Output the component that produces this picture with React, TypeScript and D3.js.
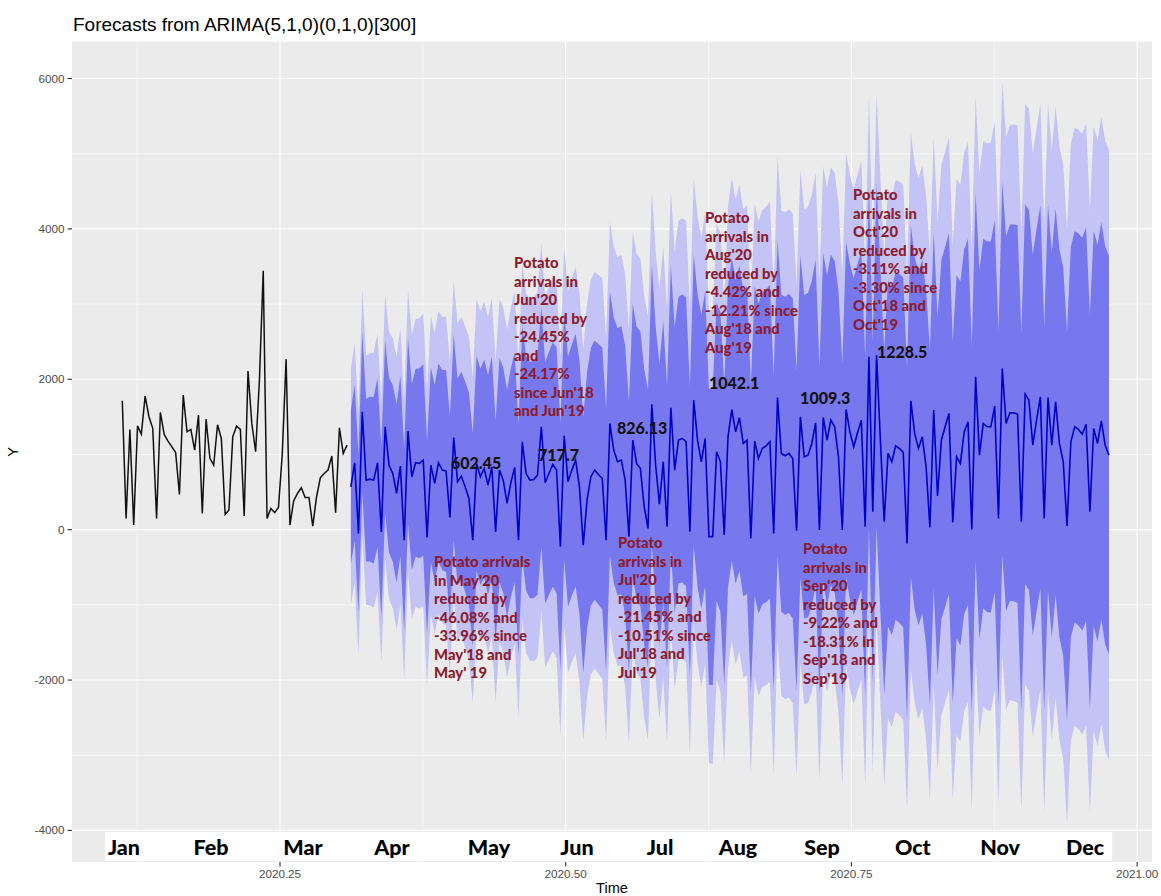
import React, { useEffect, useRef } from 'react';
import * as d3 from 'd3';

const W = 1161;
const H = 896;

// series is a ts with frequency 300, first obs read at ~2020.112
const startTime = 2020.112;
const freq = 300;

const histValues = [
  1714, 150, 1333, 61, 1381, 1271, 1777, 1502, 1347, 150,
  1559, 1267, 1178, 1103, 1027, 469, 1790, 1302, 1333, 1059,
  1524, 216, 1471, 948, 859, 1395, 1213, 203, 261, 1236,
  1377, 1333, 181, 2109, 1413, 1036, 1990, 3443, 150, 283,
  226, 296, 1014, 2268, 61, 385, 483, 558, 429, 429,
  48, 438, 691, 748, 793, 979, 226, 1355, 1014, 1125,
];

// point forecasts
const fcMean = [
  570, 890, -50, 1567, 659, 672, 659, 890, -29, 1368,
  859, 748, 482, 846, -139, 1310, 703, 890, 881, 925,
  -103, 859, 615, 890, 792, 779, 163, 1226, 637, 712,
  570, 415, -139, 881, 703, 814, 593, 836, -29, 792,
  659, 349, 624, 828, -139, 1169, 748, 659, 668, 726,
  1368, 624, 748, 868, 792, -227, 1248, 637, 792, 925,
  570, -205, 393, 703, 792, 734, 681, -139, 1412, 1058,
  903, 925, 659, -93, 1191, 881, 814, 305, 17, 1669,
  859, 340, 903, 39, 1621, 792, 1191, 1213, 1169, -27,
  1722, 1191, 903, 1213, -93, -93, 1036, 903, -71, 1235,
  1597, 1301, 1488, 1147, 1191, -116, 1178, 947, 1080, 1115,
  1169, -50, 1758, 1014, 983, 1014, 947, -14, 1501, 969,
  991, 1147, 1421, -5, 1492, 1191, 1457, 1368, 969, -5,
  1599, 1301, 1102, 1288, 1457, 39, 2298, 239, 2320, 1191,
  105, 1014, 903, 1115, 1080, 1027, -182, 1714, 1280, 1080,
  1235, 836, 30, 1590, 447, 1191, 1368, 1545, 97, 969,
  881, 1301, 1434, 4, 2032, 991, 1412, 1368, 1368, 1643,
  150, 2143, 1412, 1554, 1554, 1536, 105, 1802, 1722, 1124,
  1457, 1767, 150, 1758, 1124, 1700, 1147, 903, 48, 1169,
  1368, 1333, 1270, 1403, 239, 1346, 1147, 1448, 1124, 991,
];

// forecast standard errors by horizon
const fcSe = [
  800, 811, 823, 834, 845, 855, 866, 876, 887, 897,
  907, 917, 927, 937, 947, 956, 966, 975, 985, 994,
  1003, 1012, 1021, 1030, 1039, 1048, 1056, 1065, 1073, 1082,
  1090, 1099, 1107, 1115, 1123, 1132, 1140, 1148, 1156, 1163,
  1171, 1179, 1187, 1195, 1202, 1210, 1217, 1225, 1232, 1240,
  1247, 1254, 1262, 1269, 1276, 1283, 1290, 1297, 1304, 1311,
  1318, 1325, 1332, 1339, 1346, 1353, 1359, 1366, 1373, 1379,
  1386, 1393, 1399, 1406, 1412, 1419, 1425, 1431, 1438, 1444,
  1451, 1457, 1463, 1469, 1476, 1482, 1488, 1494, 1500, 1506,
  1512, 1518, 1524, 1530, 1536, 1542, 1548, 1554, 1560, 1566,
  1572, 1577, 1583, 1589, 1595, 1600, 1606, 1612, 1618, 1623,
  1629, 1634, 1640, 1646, 1651, 1657, 1662, 1668, 1673, 1679,
  1684, 1689, 1695, 1700, 1706, 1711, 1716, 1722, 1727, 1732,
  1738, 1743, 1748, 1753, 1758, 1764, 1769, 1774, 1779, 1784,
  1789, 1795, 1800, 1805, 1810, 1815, 1820, 1825, 1830, 1835,
  1840, 1845, 1850, 1855, 1860, 1865, 1869, 1874, 1879, 1884,
  1889, 1894, 1899, 1903, 1908, 1913, 1918, 1923, 1927, 1932,
  1937, 1941, 1946, 1951, 1956, 1960, 1965, 1970, 1974, 1979,
  1983, 1988, 1993, 1997, 2002, 2006, 2011, 2015, 2020, 2025,
  2029, 2034, 2038, 2043, 2047, 2051, 2056, 2060, 2065, 2069,
];

const levels = [95, 80];
const levelZ = { 80: 1.2816, 95: 1.96 };
const levelFill = { 80: '#7878ee', 95: '#c3c3f5' };

const yTicks = [-4000, -2000, 0, 2000, 4000, 6000];
const yMinor = [-3000, -1000, 1000, 3000, 5000];
const xTicks = [2020.25, 2020.5, 2020.75, 2021.0];
const xTickLabels = ['2020.25', '2020.50', '2020.75', '2021.00'];
const xMinor = [2020.125, 2020.375, 2020.625, 2020.875];

const months = ['Jan', 'Feb', 'Mar', 'Apr', 'May', 'Jun', 'Jul', 'Aug', 'Sep', 'Oct', 'Nov', 'Dec'];
const monthAt = [2020.1135, 2020.1896, 2020.2701, 2020.348, 2020.4329, 2020.5099,
  2020.5826, 2020.6508, 2020.7243, 2020.8037, 2020.8801, 2020.9545];

// red notes pasted over the chart (anchor = first line, time / value)
const notes = [
  { t: 2020.4548, v: 3543, lines: ['Potato', 'arrivals in', "Jun'20", 'reduced by', '-24.45%', 'and', '-24.17%', "since Jun'18", "and Jun'19"] },
  { t: 2020.3848, v: -431, lines: ['Potato arrivals', "in May'20", 'reduced by', '-46.08% and', '-33.96% since', "May'18 and", "May' 19"] },
  { t: 2020.5458, v: -178, lines: ['Potato', 'arrivals in', "Jul'20", 'reduced by', '-21.45% and', '-10.51% since', "Jul'18 and", "Jul'19"] },
  { t: 2020.6219, v: 4141, lines: ['Potato', 'arrivals in', "Aug'20", 'reduced by', '-4.42% and', '-12.21% since', "Aug'18 and", "Aug'19"] },
  { t: 2020.7077, v: -258, lines: ['Potato', 'arrivals in', "Sep'20", 'reduced by', '-9.22% and', '-18.31% in', "Sep'18 and", "Sep'19"] },
  { t: 2020.7514, v: 4447, lines: ['Potato', 'arrivals in', "Oct'20", 'reduced by', '-3.11% and', '-3.30% since', "Oct'18 and", "Oct'19"] },
];

// monthly mean labels
const meanLabels = ['602.45', '717.7', '826.13', '1042.1', '1009.3', '1228.5'];
const meanLabelT = [2020.3996, 2020.4758, 2020.5449, 2020.6254, 2020.7051, 2020.7724];
const meanLabelV = [885, 991, 1350, 1948, 1749, 2361];

const App = () => {
  const ref = useRef(null);

  useEffect(() => {
    const margin = { top: 41.7, right: 9, bottom: 34, left: 72 };
    const x0 = margin.left;
    const x1 = W - margin.right;
    const y0 = margin.top;
    const y1 = H - margin.bottom;

    const svg = d3.select(ref.current);
    svg.selectAll('*').remove();

    const x = d3.scaleLinear().domain([2020.068, 2021.013]).range([x0, x1]);
    const y = d3.scaleLinear().domain([-4420, 6490]).range([y1, y0]);

    const hist = histValues.map((v, i) => ({ t: startTime + i / freq, v }));
    const fc = fcMean.map((v, i) => ({
      t: startTime + (histValues.length + i) / freq,
      v,
      se: fcSe[i],
    }));

    // panel
    svg.append('rect').attr('x', x0).attr('y', y0).attr('width', x1 - x0).attr('height', y1 - y0).attr('fill', '#ebebeb');

    const grid = svg.append('g').attr('stroke', '#ffffff');
    yMinor.forEach((v) => grid.append('line').attr('x1', x0).attr('x2', x1).attr('y1', y(v)).attr('y2', y(v)).attr('stroke-width', 0.55));
    xMinor.forEach((t) => grid.append('line').attr('x1', x(t)).attr('x2', x(t)).attr('y1', y0).attr('y2', y1).attr('stroke-width', 0.55));
    yTicks.forEach((v) => grid.append('line').attr('x1', x0).attr('x2', x1).attr('y1', y(v)).attr('y2', y(v)).attr('stroke-width', 1.1));
    xTicks.forEach((t) => grid.append('line').attr('x1', x(t)).attr('x2', x(t)).attr('y1', y0).attr('y2', y1).attr('stroke-width', 1.1));

    // prediction intervals
    levels.forEach((lv) => {
      const z = levelZ[lv];
      const area = d3.area()
        .x((d) => x(d.t))
        .y0((d) => y(d.v - z * d.se))
        .y1((d) => y(d.v + z * d.se));
      svg.append('path').datum(fc).attr('d', area).attr('fill', levelFill[lv]);
    });

    const line = d3.line().x((d) => x(d.t)).y((d) => y(d.v));
    svg.append('path').datum(hist).attr('d', line).attr('fill', 'none').attr('stroke', '#111111').attr('stroke-width', 1.5);
    svg.append('path').datum(fc).attr('d', line).attr('fill', 'none').attr('stroke', '#0000c8').attr('stroke-width', 1.6);

    // month strip pasted over the bottom of the panel
    svg.append('rect')
      .attr('x', x(2020.0969)).attr('y', y1 - 30)
      .attr('width', x(2020.9781) - x(2020.0969)).attr('height', 29)
      .attr('fill', '#ffffff');
    svg.append('g').selectAll('text').data(months).enter().append('text')
      .attr('x', (d, i) => x(monthAt[i]))
      .attr('y', y1 - 7)
      .attr('text-anchor', 'middle')
      .attr('font-family', 'Lato, "Open Sans", sans-serif')
      .attr('font-weight', 900)
      .attr('font-size', 21.5)
      .attr('fill', '#000')
      .text((d) => d);

    // notes
    notes.forEach((n) => {
      const g = svg.append('text')
        .attr('font-family', 'Lato, "Open Sans", sans-serif')
        .attr('font-weight', 900)
        .attr('font-size', 14.8)
        .attr('fill', '#8c1b2c');
      n.lines.forEach((s, i) => {
        g.append('tspan').attr('x', x(n.t)).attr('y', y(n.v) + 5 + i * 18.5).text(s);
      });
    });

    svg.append('g').selectAll('text').data(meanLabels).enter().append('text')
      .attr('x', (d, i) => x(meanLabelT[i]))
      .attr('y', (d, i) => y(meanLabelV[i]) + 5.5)
      .attr('font-family', 'Lato, "Open Sans", sans-serif')
      .attr('font-weight', 900)
      .attr('font-size', 16)
      .attr('fill', '#111')
      .text((d) => d);

    // axes
    const axisFont = '"Liberation Sans", Arial, sans-serif';
    const yAxis = svg.append('g');
    yTicks.forEach((v) => {
      yAxis.append('line').attr('x1', x0 - 4.5).attr('x2', x0).attr('y1', y(v)).attr('y2', y(v)).attr('stroke', '#333').attr('stroke-width', 1.1);
      yAxis.append('text').attr('x', x0 - 7.5).attr('y', y(v) + 4).attr('text-anchor', 'end')
        .attr('font-family', axisFont).attr('font-size', 11.7).attr('fill', '#4d4d4d').text(v);
    });
    const xAxis = svg.append('g');
    xTicks.forEach((t, i) => {
      xAxis.append('line').attr('x1', x(t)).attr('x2', x(t)).attr('y1', y1).attr('y2', y1 + 4.5).attr('stroke', '#333').attr('stroke-width', 1.1);
      xAxis.append('text').attr('x', x(t)).attr('y', y1 + 15.5).attr('text-anchor', 'middle')
        .attr('font-family', axisFont).attr('font-size', 11.7).attr('fill', '#4d4d4d').text(xTickLabels[i]);
    });

    svg.append('text').attr('x', (x0 + x1) / 2).attr('y', H - 3).attr('text-anchor', 'middle')
      .attr('font-family', axisFont).attr('font-size', 14.6).attr('fill', '#000').text('Time');
    svg.append('text').attr('transform', `translate(18,${(y0 + y1) / 2}) rotate(-90)`).attr('text-anchor', 'middle')
      .attr('font-family', axisFont).attr('font-size', 14.6).attr('fill', '#000').text('Y');
    svg.append('text').attr('x', x0 + 1).attr('y', 31).attr('font-family', axisFont)
      .attr('font-size', 19).attr('fill', '#000').text('Forecasts from ARIMA(5,1,0)(0,1,0)[300]');
  }, []);

  return (
    <svg ref={ref} width={W} height={H} style={{ position: 'absolute', left: 0, top: 0, background: '#fff' }} />
  );
};

export default App;
